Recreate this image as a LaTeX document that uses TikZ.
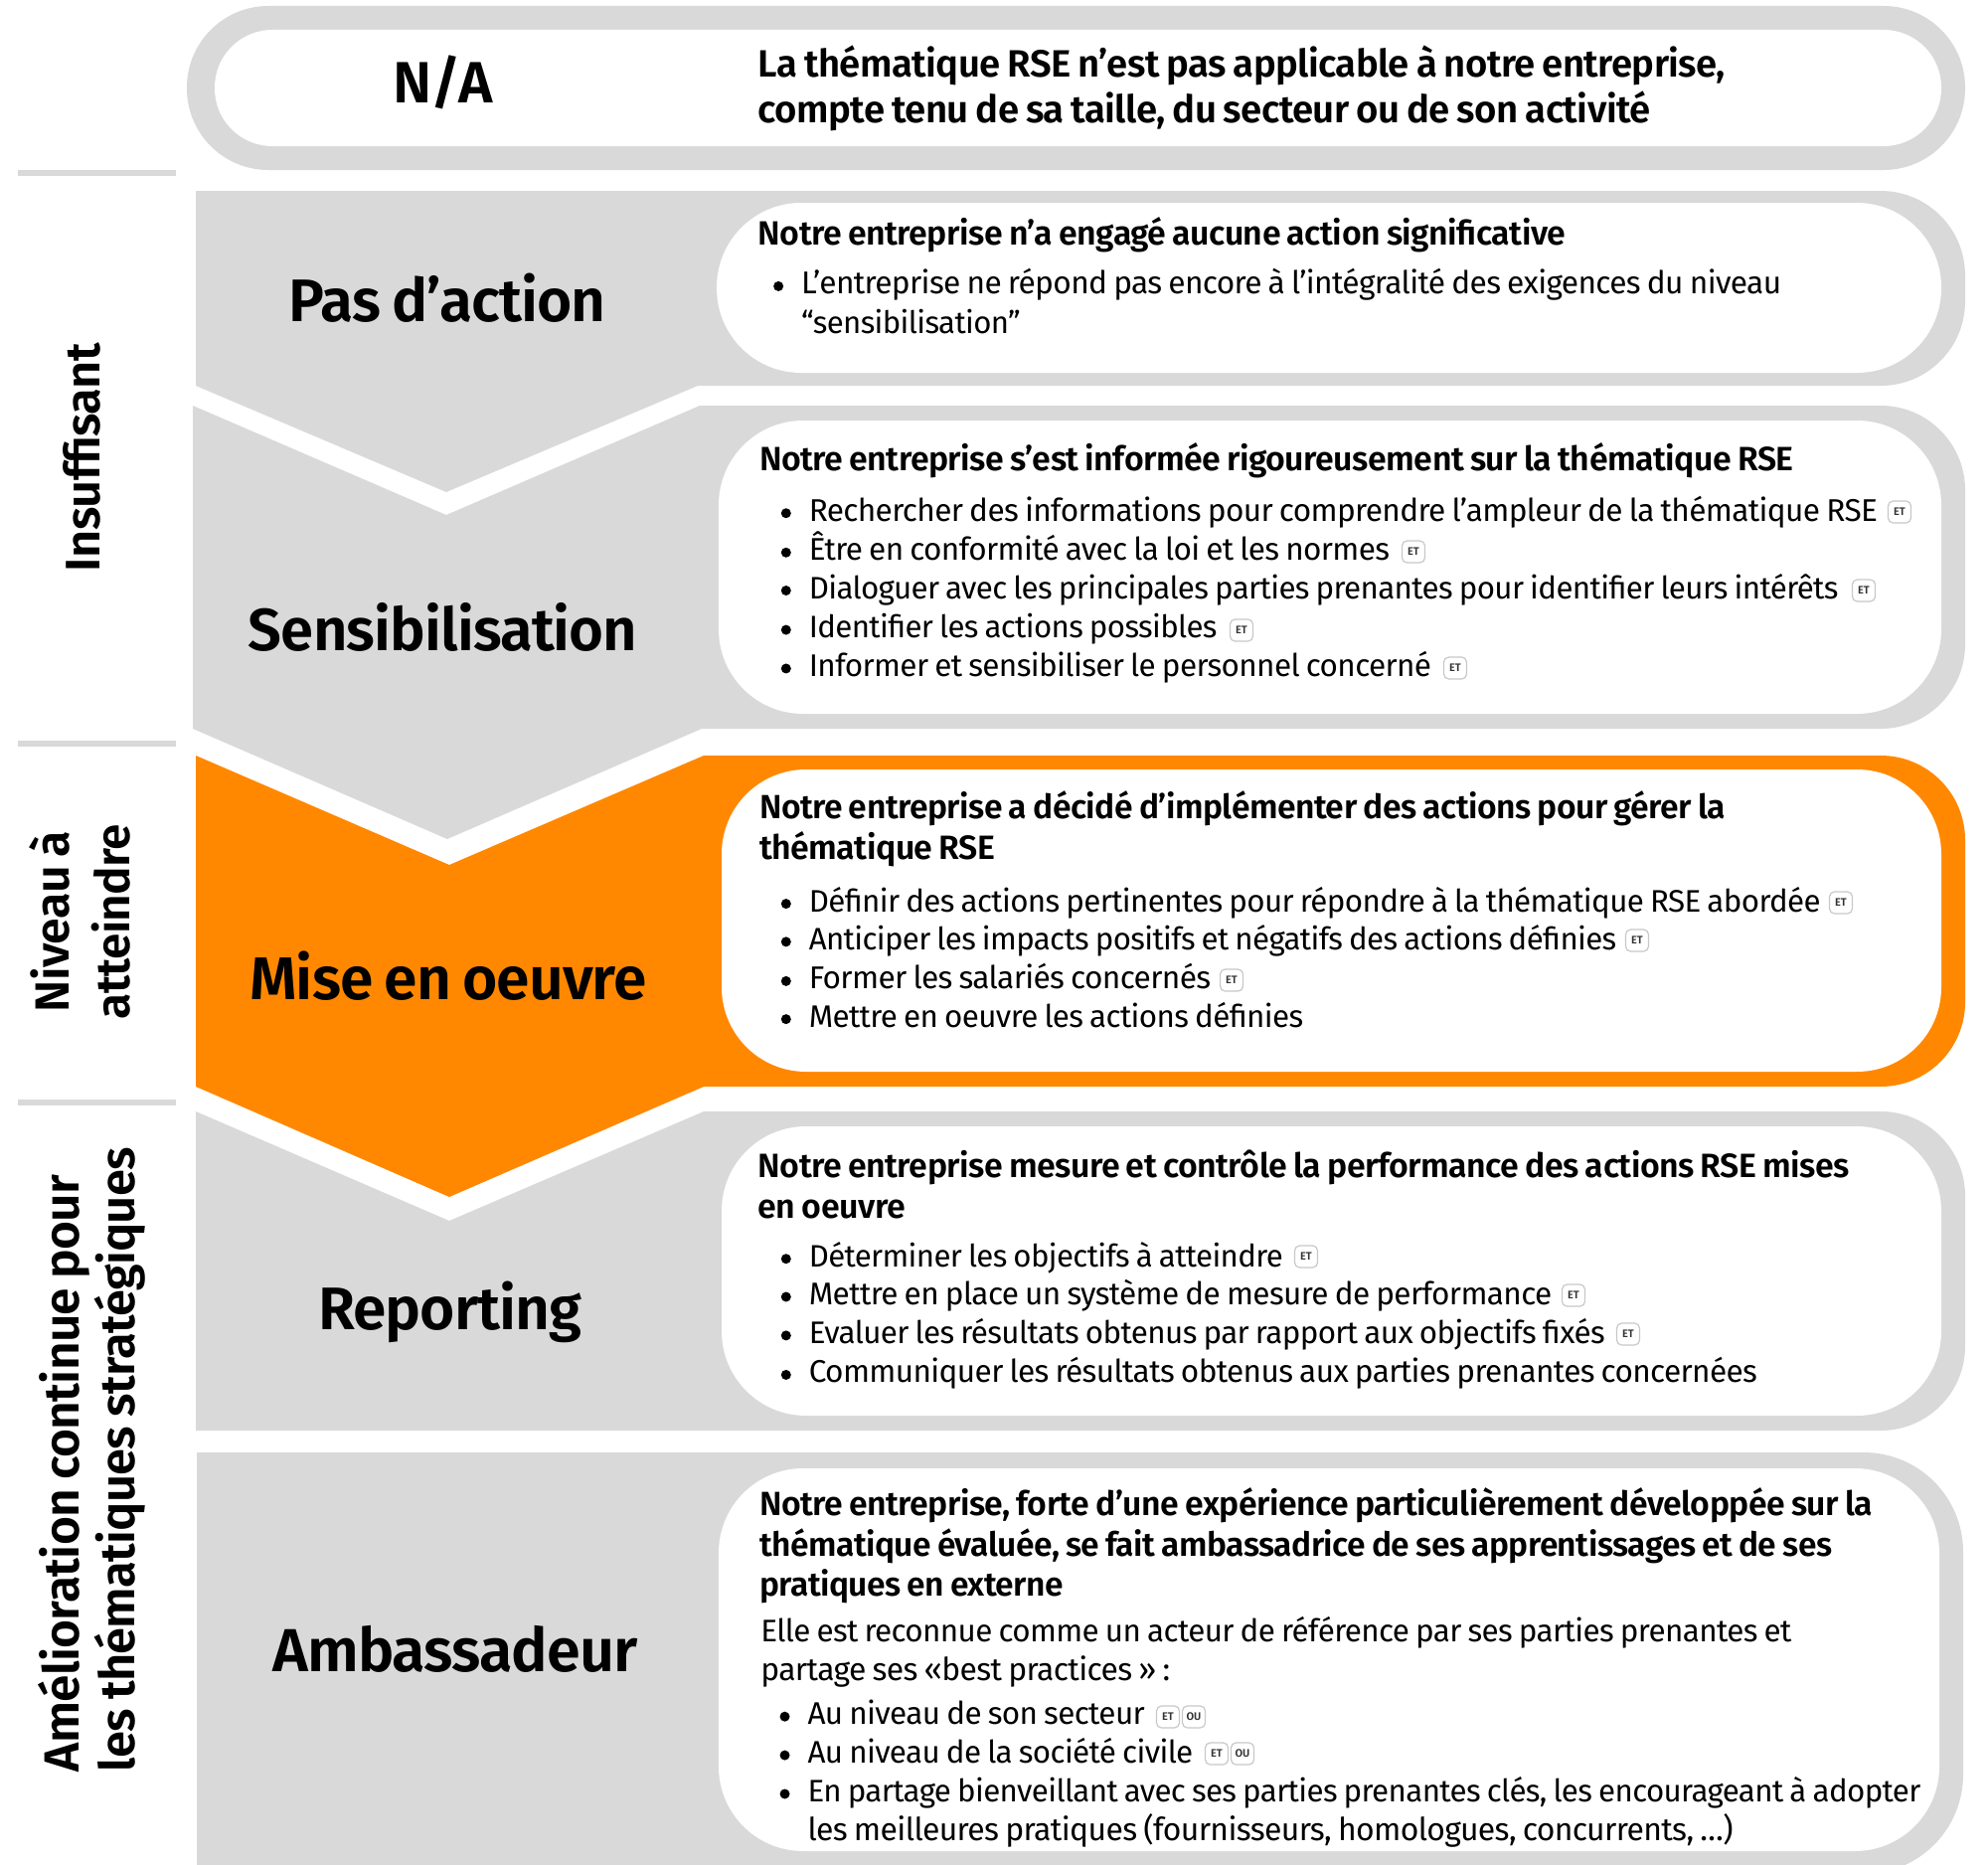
\documentclass[tikz,border=0pt]{standalone}
\usepackage{fontspec}
\usepackage{graphicx}
\setmainfont{Fira Sans}[LetterSpace=-2,WordSpace=0.8]
\newfontfamily\hdfont{Fira Sans SemiBold}[LetterSpace=-1.5,WordSpace=0.8]
\newfontfamily\bdgfont{Fira Sans SemiBold}
\definecolor{rowgrey}{HTML}{D9D9D9}
\definecolor{roworange}{HTML}{FF8800}
\definecolor{badgeline}{HTML}{C8C8C8}
\definecolor{badgetext}{HTML}{333333}
\tikzset{
  txt/.style={anchor=base west,inner sep=0pt,outer sep=0pt,text=black},
  ctitle/.style={anchor=base,inner sep=0pt,outer sep=0pt,text=black},
  bulletdot/.style={circle,fill=black,inner sep=0pt,minimum size=10pt},
  badge/.style={draw=badgeline,line width=1.2pt,fill=white,rounded corners=5pt,minimum width=23pt,minimum height=22pt,inner sep=0pt,text=badgetext,font=\bdgfont\fontsize{11}{11}\selectfont},
  side/.style={rotate=90,anchor=base,inner sep=0pt,outer sep=0pt,text=black},
  sepbar/.style={fill=rowgrey},
  inner/.style={fill=white,rounded corners=85pt},
}
% display coordinates (x1,x2,baseline) -> name, text
\newcommand{\tline}[5]{\node[txt] (#1) at (#2*1.2755,#4*1.2755) {\resizebox{\dimexpr 1.2755pt*\numexpr #3-#2\relax\relax}{!}{\fontsize{31}{36}\selectfont #5}};}
\newcommand{\hdline}[5]{\node[txt] (#1) at (#2*1.2755,#4*1.2755) {\resizebox{\dimexpr 1.2755pt*\numexpr #3-#2\relax\relax}{!}{\fontsize{31}{36}\selectfont\hdfont #5}};}
\newcommand{\bigt}[5]{\node[ctitle] (#1) at ({(#2+#3)/2*1.2755},#4) {\resizebox{\dimexpr 1.2755pt*\numexpr #3-#2\relax\relax}{!}{\fontsize{58}{60}\selectfont\hdfont #5}};}
\newcommand{\bul}[3]{\node[bulletdot] (#1) at (#2*1.2755,#3*1.2755-8) {};}
\begin{document}
\begin{tikzpicture}[x=1pt,y=-1pt]
\useasboundingbox (0,0) rectangle (2000,1876);
\clip (0,0) rectangle (2000,1876);
\fill[white] (0,0) rectangle (2000,1876);
% separators
\fill[sepbar] (18,171) rectangle (177,177);
\fill[sepbar] (18,745) rectangle (177,751);
\fill[sepbar] (18,1106) rectangle (177,1112);
% N/A
\fill[rowgrey,rounded corners=82pt] (188,6) rectangle (1977,171);
\fill[white,rounded corners=58pt] (216,30) rectangle (1953,147);
% Pas d'action
\fill[rowgrey] (197,192) [rounded corners=85pt] -- (1977,192) -- (1977,388) [sharp corners] -- (702,388) -- (449,495) -- (197,388) -- cycle;
\fill[inner] (721,204) rectangle (1953,375);
% Sensibilisation
\fill[rowgrey] (194,408) -- (449,518) -- (704,408) [rounded corners=85pt] -- (1977,408) -- (1977,733) [sharp corners] -- (706,733) -- (450,844) -- (194,733) -- cycle;
\fill[inner] (723,423) rectangle (1953,718);
% Mise en oeuvre
\fill[roworange] (197,760) -- (452,870) -- (708,760) [rounded corners=85pt] -- (1977,760) -- (1977,1093) [sharp corners] -- (708,1093) -- (452,1204) -- (197,1093) -- cycle;
\fill[inner] (726,774) rectangle (1953,1078);
% Reporting
\fill[rowgrey] (197,1118) -- (452,1228) -- (708,1118) [rounded corners=85pt] -- (1977,1118) -- (1977,1439) [sharp corners] -- (197,1439) -- cycle;
\fill[inner] (726,1133) rectangle (1953,1424);
% Ambassadeur
\fill[rowgrey] (198,1461) [rounded corners=100pt] -- (1975,1461) -- (1975,1885) [sharp corners] -- (198,1885) -- cycle;
\fill[inner] (723,1477) rectangle (1951,1862);
% side labels
\node[side] (insuf) at (100,460) {\resizebox{230pt}{!}{\fontsize{44}{50}\selectfont\hdfont Insuffisant}};
\node[side] (niv) at (69,927) {\resizebox{182pt}{!}{\fontsize{44}{50}\selectfont\hdfont Niveau à}};
\node[side] (att) at (130,927) {\resizebox{196pt}{!}{\fontsize{44}{50}\selectfont\hdfont atteindre}};
\node[side] (amel) at (79,1482) {\resizebox{600pt}{!}{\fontsize{44}{50}\selectfont\hdfont Amélioration continue pour}};
\node[side] (thema) at (135,1468) {\resizebox{628pt}{!}{\fontsize{44}{50}\selectfont\hdfont les thématiques stratégiques}};
% titles
\bigt{tna}{310}{389}{103}{N/A}
\bigt{tpas}{228}{478}{323}{Pas d’action}
\bigt{tsens}{196}{503}{654}{Sensibilisation}
\bigt{tmise}{197}{510}{1005}{Mise en oeuvre}
\bigt{trep}{251}{459}{1337}{Reporting}
\bigt{tamb}{215}{503}{1681}{Ambassadeur}
% N/A text
\hdline{na1}{598}{1361}{61}{La thématique RSE n’est pas applicable à notre entreprise,}
\hdline{na2}{598}{1302}{97}{compte tenu de sa taille, du secteur ou de son activité}
% Pas
\hdline{pa0}{598}{1235}{193}{Notre entreprise n’a engagé aucune action significative}
\bul{pb1}{614}{232}
\tline{pa1}{632}{1405}{232}{L’entreprise ne répond pas encore à l’intégralité des exigences du niveau}
\tline{pa2}{632}{805}{263}{“sensibilisation”}
% Sens
\hdline{se0}{599}{1415}{371}{Notre entreprise s’est informée rigoureusement sur la thématique RSE}
\bul{sb1}{620}{411}\tline{se1}{638}{1481}{411}{Rechercher des informations pour comprendre l’ampleur de la thématique RSE}
\bul{sb2}{620}{442}\tline{se2}{638}{1096}{442}{Être en conformité avec la loi et les normes}
\bul{sb3}{620}{472}\tline{se3}{638}{1450}{472}{Dialoguer avec les principales parties prenantes pour identifier leurs intérêts}
\bul{sb4}{620}{503}\tline{se4}{638}{960}{503}{Identifier les actions possibles}
\bul{sb5}{620}{533.5}\tline{se5}{638}{1129}{533.5}{Informer et sensibiliser le personnel concerné}
% Mise
\hdline{mi0}{599}{1361}{646}{Notre entreprise a décidé d’implémenter des actions pour gérer la}
\hdline{mi00}{599}{785}{678}{thématique RSE}
\bul{mb1}{620}{719}\tline{mi1}{638}{1436}{719}{Définir des actions pertinentes pour répondre à la thématique RSE abordée}
\bul{mb2}{620}{749}\tline{mi2}{638}{1275}{749}{Anticiper les impacts positifs et négatifs des actions définies}
\bul{mb3}{620}{780}\tline{mi3}{638}{955}{780}{Former les salariés concernés}
\bul{mb4}{620}{810}\tline{mi4}{638}{1028}{810}{Mettre en oeuvre les actions définies}
% Reporting
\hdline{re0}{598}{1459}{929}{Notre entreprise mesure et contrôle la performance des actions RSE mises}
\hdline{re00}{598}{714}{961}{en oeuvre}
\bul{rb1}{620}{999}\tline{re1}{638}{1012}{999}{Déterminer les objectifs à atteindre}
\bul{rb2}{620}{1029}\tline{re2}{638}{1224}{1029}{Mettre en place un système de mesure de performance}
\bul{rb3}{620}{1059.5}\tline{re3}{638}{1266}{1059.5}{Evaluer les résultats obtenus par rapport aux objectifs fixés}
\bul{rb4}{620}{1090.5}\tline{re4}{638}{1386}{1090.5}{Communiquer les résultats obtenus aux parties prenantes concernées}
% Ambassadeur
\hdline{am0}{599}{1477}{1195}{Notre entreprise, forte d’une expérience particulièrement développée sur la}
\hdline{am00}{599}{1445}{1227}{thématique évaluée, se fait ambassadrice de ses apprentissages et de ses}
\hdline{am000}{599}{839}{1259}{pratiques en externe}
\tline{am1}{600}{1413}{1295}{Elle est reconnue comme un acteur de référence par ses parties prenantes et}
\tline{am2}{600}{923}{1325.5}{partage ses «best practices » :}
\bul{ab1}{619}{1360}\tline{am3}{637}{903}{1360}{Au niveau de son secteur}
\bul{ab2}{619}{1390.5}\tline{am4}{637}{941}{1390.5}{Au niveau de la société civile}
\bul{ab3}{619}{1421}\tline{am5}{637}{1515}{1421}{En partage bienveillant avec ses parties prenantes clés, les encourageant à adopter}
\tline{am6}{637}{1367}{1451.5}{les meilleures pratiques (fournisseurs, homologues, concurrents, …)}
% badges
\node[badge] (b1) at (1911,515) {ET};
\node[badge] (b2) at (1422,555) {ET};
\node[badge] (b3) at (1875,594) {ET};
\node[badge] (b4) at (1249,634) {ET};
\node[badge] (b5) at (1464,672) {ET};
\node[badge] (b6) at (1852,908) {ET};
\node[badge] (b7) at (1647,946) {ET};
\node[badge] (b8) at (1239,986) {ET};
\node[badge] (b9) at (1314,1264) {ET};
\node[badge] (b10) at (1583,1303) {ET};
\node[badge] (b11) at (1638,1342) {ET};
\node[badge] (b12) at (1175,1727) {ET};
\node[badge] (b13) at (1201,1727) {OU};
\node[badge] (b14) at (1224,1764) {ET};
\node[badge] (b15) at (1250,1764) {OU};
\end{tikzpicture}
\end{document}
